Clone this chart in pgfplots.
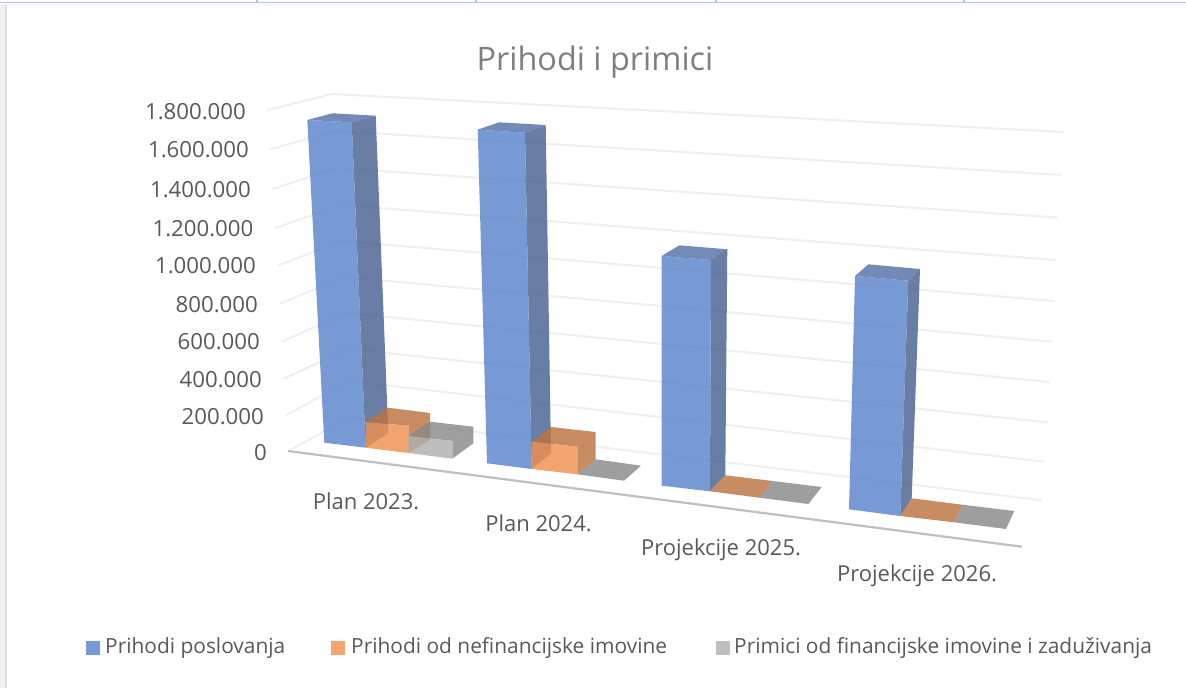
\documentclass[border=0pt]{standalone}
\usepackage{pgfplots}
\pgfplotsset{compat=1.18}
\usepackage{fontspec}
\setmainfont{Open Sans}
\definecolor{txt}{HTML}{595959}
\definecolor{ttl}{HTML}{7F7F7F}
\definecolor{gridc}{HTML}{EFEFEF}
\definecolor{frm}{HTML}{B4C6E7}
\definecolor{bf}{HTML}{5A84CC}
\definecolor{bs}{HTML}{4A6190}
\definecolor{bt}{HTML}{5570A6}
\definecolor{of}{HTML}{F0914F}
\definecolor{os}{HTML}{BC7340}
\definecolor{gf}{HTML}{B0B0B0}
\definecolor{gs}{HTML}{898989}
\newcommand\poly[2]{\addplot[fill=#1,draw=none,fill opacity=0.82,forget plot] coordinates {#2} --cycle;}
\newcommand\gl[1]{\addplot[gridc,line width=2pt,forget plot] coordinates {#1};}
\begin{document}
\begin{tikzpicture}
\begin{axis}[
  scale only axis,width=1186pt,height=688pt,
  xmin=0,xmax=1186,ymin=0,ymax=688,y dir=reverse,
  hide axis,clip=true,
]
% page ground and the frame of the screenshot
\addplot[fill=white,draw=none,forget plot] coordinates {(0,0)(1186,0)(1186,688)(0,688)} --cycle;
\addplot[fill=black!6,draw=none,forget plot] coordinates {(0,4)(5,4)(5,688)(0,688)} --cycle;
\addplot[fill=black!13,draw=none,forget plot] coordinates {(5,4)(7,4)(7,688)(5,688)} --cycle;
\addplot[fill=black!5,draw=none,forget plot] coordinates {(0,3.5)(1186,3.5)(1186,5)(0,5)} --cycle;
\addplot[color=frm,line width=1.5pt,forget plot] coordinates {(0,2.7)(1186,2.7)};
\addplot[color=frm,line width=1.5pt,forget plot] coordinates {(257,0)(257,2.7)};
\addplot[color=frm,line width=1.5pt,forget plot] coordinates {(476,0)(476,2.7)};
\addplot[color=frm,line width=1.5pt,forget plot] coordinates {(716,0)(716,2.7)};
\addplot[color=frm,line width=1.5pt,forget plot] coordinates {(964,0)(964,2.7)};
% walls
\gl{(267.3,110)(332,94)(1063.3,132)}
\gl{(270.3,149.3)(335,131)(1061.3,175)}
\gl{(272.7,189)(337,168)(1058.7,217.7)}
\gl{(275,228.3)(340,205)(1056.3,260)}
\gl{(277.3,266)(342,241)(1054,301)}
\gl{(279.7,304)(344,277)(1051.7,341.7)}
\gl{(282,341.7)(346,313)(1049.3,382)}
\gl{(284,378.7)(348,349)(1047,422.3)}
\gl{(286,415.3)(349,381)(1044.3,461.7)}
\gl{(288,451.3)(350,417)(1042.3,500.3)}
% floor edge
\addplot[color=black!25,line width=2.2pt,forget plot] coordinates {(288,451)(1021.7,546.7)};
% Plan 2023
\poly{bs}{(351.7,122.3)(375.7,115.7)(388.3,433.3)(365.7,447.7)}
\poly{bt}{(307.3,120)(351.7,122.3)(375.7,115.7)(332.3,113.3)}
\poly{bf}{(307.3,120)(351.7,122.3)(365.7,447.7)(324.3,442.7)}
\poly{os}{(408.3,425.7)(430,413)(430,440)(408.3,453)}
\poly{os}{(365.7,422.3)(408.3,425.7)(430,413)(388.3,407.7)}
\poly{of}{(365.7,422.3)(408.3,425.7)(408.3,453)(365.7,447.7)}
\poly{gs}{(452.3,441)(473.3,426.7)(473.3,443.3)(452.3,458.7)}
\poly{gs}{(408.3,436)(452.3,441)(473.3,426.7)(430,421.7)}
\poly{gf}{(408.3,436)(452.3,441)(452.3,458.7)(408.3,453)}
% Plan 2024
\poly{bs}{(525,132.7)(545.7,125)(551,453)(531.7,469)}
\poly{bt}{(477.7,129.7)(525,132.7)(545.7,125)(499,122.3)}
\poly{bf}{(477.7,129.7)(525,132.7)(531.7,469)(487,463.3)}
\poly{os}{(577.3,446.7)(595.7,432)(595.7,459.3)(577.3,474.3)}
\poly{os}{(531.7,441.7)(577.3,446.7)(595.7,432)(551,427)}
\poly{of}{(531.7,441.7)(577.3,446.7)(577.3,474.3)(531.7,469)}
\poly{gs}{(577.3,474.3)(624,480.7)(641,465.7)(595.7,459.3)}
% Projekcije 2025
\poly{bs}{(711,260)(727.3,249.3)(725.3,475.3)(710,491.3)}
\poly{bt}{(661.7,256)(711,260)(727.3,249.3)(679.3,245.3)}
\poly{bf}{(661.7,256)(711,260)(710,491.3)(661.7,485.7)}
\poly{os}{(710,491.3)(759.3,497.7)(772.7,481)(725.3,475.3)}
\poly{gs}{(759.3,497.7)(808.3,504)(821.7,487)(772.7,481)}
% Projekcije 2026
\poly{bs}{(908.3,280.7)(920,269)(911.7,498.3)(900.3,516)}
\poly{bt}{(855,276)(908.3,280.7)(920,269)(868.3,264.3)}
\poly{bf}{(855,276)(908.3,280.7)(900.3,516)(849,509.3)}
\poly{os}{(900.3,516)(954,522.3)(962.3,504.7)(911.7,498.3)}
\poly{gs}{(954,522.3)(1006,529)(1014.3,511)(962.3,504.7)}
% legend keys
\addplot[fill=bf,fill opacity=0.82,draw=none,forget plot] coordinates {(86,640.7)(100,640.7)(100,655)(86,655)} --cycle;
\addplot[fill=of,fill opacity=0.82,draw=none,forget plot] coordinates {(331,640.7)(345,640.7)(345,655)(331,655)} --cycle;
\addplot[fill=gf,fill opacity=0.82,draw=none,forget plot] coordinates {(716,640.7)(730,640.7)(730,655)(716,655)} --cycle;
% texts
\node[text=ttl,font=\fontsize{32.4}{38}\selectfont] at (axis cs:595,62) {Prihodi i primici};
\begin{scope}[font=\fontsize{22.2}{26}\selectfont,text=txt]
\node[anchor=east,inner xsep=0pt] at (axis cs:246,112) {1.800.000};
\node[anchor=east,inner xsep=0pt] at (axis cs:249,150) {1.600.000};
\node[anchor=east,inner xsep=0pt] at (axis cs:251,190) {1.400.000};
\node[anchor=east,inner xsep=0pt] at (axis cs:253.5,229) {1.200.000};
\node[anchor=east,inner xsep=0pt] at (axis cs:256,266) {1.000.000};
\node[anchor=east,inner xsep=0pt] at (axis cs:258,305) {800.000};
\node[anchor=east,inner xsep=0pt] at (axis cs:260,342) {600.000};
\node[anchor=east,inner xsep=0pt] at (axis cs:262,380) {400.000};
\node[anchor=east,inner xsep=0pt] at (axis cs:264,417) {200.000};
\node[anchor=east,inner xsep=0pt] at (axis cs:267,453) {0};
\end{scope}
\begin{scope}[font=\fontsize{22}{26}\selectfont,text=txt]
\node at (axis cs:366,501) {Plan 2023.};
\node at (axis cs:538.5,523) {Plan 2024.};
\node at (axis cs:721,550) {Projekcije 2025.};
\node at (axis cs:917,576) {Projekcije 2026.};
\end{scope}
\begin{scope}[font=\fontsize{20.9}{25}\selectfont,text=txt]
\node[anchor=west,inner sep=0pt] at (axis cs:105,648) {Prihodi poslovanja};
\node[anchor=west,inner sep=0pt] at (axis cs:351,648) {Prihodi od nefinancijske imovine};
\node[anchor=west,inner sep=0pt] at (axis cs:734,648) {Primici od financijske imovine i zaduživanja};
\end{scope}
\end{axis}
\end{tikzpicture}
\end{document}
